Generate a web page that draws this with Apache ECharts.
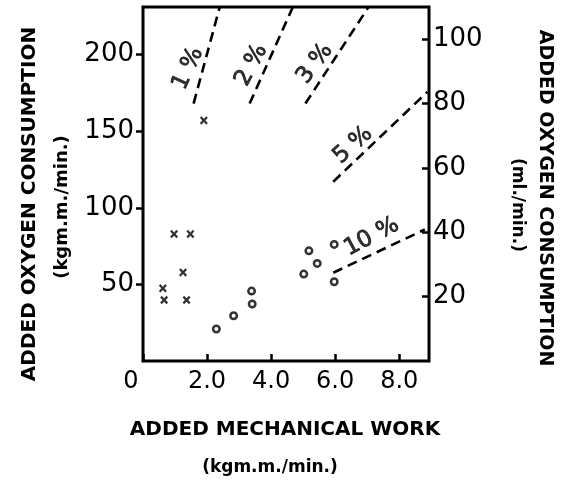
<!DOCTYPE html>
<html><head><meta charset="utf-8">
<script src="https://cdn.jsdelivr.net/npm/echarts@6/dist/echarts.min.js"></script>
<style>html,body{margin:0;padding:0;background:#fff}#c{width:563px;height:481px}</style>
</head><body><div id="c"></div>
<script>
// Data
const crossX = [0.62, 0.66, 0.97, 1.25, 1.36, 1.48, 1.90];
const crossY = [47.4, 39.8, 82.8, 57.8, 39.8, 82.8, 157];
const circleX = [2.29, 2.83, 3.39, 3.41, 5.02, 5.18, 5.44, 5.97, 5.97];
const circleY = [20.9, 29.5, 45.6, 37.2, 56.7, 71.9, 63.7, 76.1, 51.7];
const lineNames = ['1 %', '2 %', '3 %', '5 %', '10 %'];
const lineStartX = [1.58, 3.33, 5.07, 5.94, 5.94];
const lineStartY = [168, 168, 168, 117, 57.6];
const lineEndX = [2.39, 4.67, 7.03, 8.88, 8.8];
const lineEndY = [230.6, 230.6, 230.6, 175.6, 85.8];
const labelX = [1.41, 3.39, 5.37, 6.56, 7.14];
const labelY = [190.8, 193, 194, 140.8, 81];
const labelAngle = [65, 62, 53, 42, 28];
const xMax = 8.93, yMax = 231, y2Max = 110;

const chart = echarts.init(document.getElementById('c'), null, {renderer: 'canvas'});
const FONT = 'DejaVu Sans';
const crossPath = 'path://M0,2 L2,0 L5,3 L8,0 L10,2 L7,5 L10,8 L8,10 L5,7 L2,10 L0,8 L3,5 Z';

const series = [];
lineNames.forEach((n, i) => {
  series.push({
    type: 'line', name: n, yAxisIndex: 0, symbol: 'none', silent: true,
    data: [[lineStartX[i], lineStartY[i]], [lineEndX[i], lineEndY[i]]],
    lineStyle: {color: '#000', width: 2.6, type: [10, 6]}
  });
});
series.push({
  type: 'scatter', yAxisIndex: 0, symbol: crossPath, symbolSize: [8, 8.5],
  itemStyle: {color: '#000'},
  data: crossX.map((x, i) => [x, crossY[i]])
});
series.push({
  type: 'scatter', yAxisIndex: 0, symbol: 'circle', symbolSize: 6.5,
  itemStyle: {color: '#fff', borderColor: '#000', borderWidth: 2.5},
  data: circleX.map((x, i) => [x, circleY[i]])
});
series.push({
  type: 'scatter', yAxisIndex: 0, symbolSize: 0, silent: true,
  label: {show: true, position: 'inside', color: '#000', fontFamily: FONT, fontSize: 23,
    textBorderColor: '#000', textBorderWidth: 0.8,
    formatter: p => lineNames[p.dataIndex]},
  data: labelX.map((x, i) => ({value: [x, labelY[i]], label: {rotate: labelAngle[i]}}))
});

const option = {
  backgroundColor: '#fff',
  animation: false,
  grid: {left: 143, right: 134, top: 7, bottom: 120, show: true, borderColor: '#000', borderWidth: 3},
  xAxis: {
    type: 'value', min: 0, max: xMax, interval: 2,
    axisLine: {show: false}, splitLine: {show: false},
    axisTick: {inside: true, length: 7, lineStyle: {color: '#000', width: 2.5}},
    axisLabel: {
      showMaxLabel: false, color: '#000', fontFamily: FONT, fontSize: 24, margin: 9,
      formatter: v => v === 0 ? '{z|0}' : v.toFixed(1),
      rich: {z: {fontFamily: FONT, fontSize: 24, color: '#000', padding: [0, 24, 0, 0]}}
    }
  },
  yAxis: [{
    type: 'value', min: 0, max: yMax, interval: 50, position: 'left',
    axisLine: {show: false}, splitLine: {show: false},
    axisTick: {inside: false, length: 7, lineStyle: {color: '#000', width: 2.5}},
    axisLabel: {showMaxLabel: false, showMinLabel: false, color: '#000', fontFamily: FONT, fontSize: 26, margin: 9}
  }, {
    type: 'value', min: 0, max: y2Max, interval: 20, position: 'right',
    axisLine: {show: false}, splitLine: {show: false},
    axisTick: {inside: true, length: 7, lineStyle: {color: '#000', width: 2.5}},
    axisLabel: {showMaxLabel: false, showMinLabel: false, color: '#000', fontFamily: FONT, fontSize: 26, margin: 4}
  }],
  graphic: [
    {type: 'text', x: 285, y: 430, style: {text: 'ADDED MECHANICAL WORK', fontFamily: FONT, fontWeight: 'bold', fontSize: 20, fill: '#000', textAlign: 'center', textVerticalAlign: 'middle'}},
    {type: 'text', x: 270, y: 468, style: {text: '(kgm.m./min.)', fontFamily: FONT, fontWeight: 'bold', fontSize: 17, fill: '#000', textAlign: 'center', textVerticalAlign: 'middle'}},
    {type: 'text', x: 30, y: 204, rotation: Math.PI / 2, style: {text: 'ADDED OXYGEN CONSUMPTION', fontFamily: FONT, fontWeight: 'bold', fontSize: 20, fill: '#000', textAlign: 'center', textVerticalAlign: 'middle'}},
    {type: 'text', x: 62, y: 207, rotation: Math.PI / 2, style: {text: '(kgm.m./min.)', fontFamily: FONT, fontWeight: 'bold', fontSize: 18, fill: '#000', textAlign: 'center', textVerticalAlign: 'middle'}},
    {type: 'text', x: 545, y: 198, rotation: -Math.PI / 2, style: {text: 'ADDED OXYGEN CONSUMPTION', fontFamily: FONT, fontWeight: 'bold', fontSize: 19, fill: '#000', textAlign: 'center', textVerticalAlign: 'middle'}},
    {type: 'text', x: 517, y: 205, rotation: -Math.PI / 2, style: {text: '(ml./min.)', fontFamily: FONT, fontWeight: 'bold', fontSize: 17, fill: '#000', textAlign: 'center', textVerticalAlign: 'middle'}}
  ],
  series: series
};
chart.setOption(option);
</script>
</body></html>
